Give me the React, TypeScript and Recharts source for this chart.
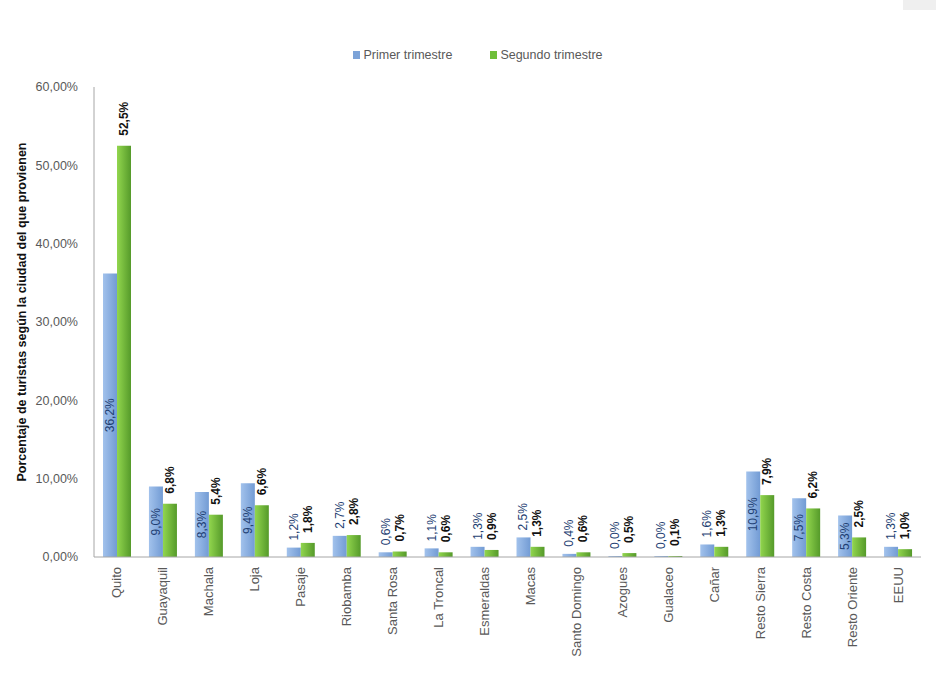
import { BarChart, Bar, XAxis, YAxis, Legend, LabelList } from "recharts";

const ciudades = [
  "Quito", "Guayaquil", "Machala", "Loja", "Pasaje", "Riobamba", "Santa Rosa", "La Troncal",
  "Esmeraldas", "Macas", "Santo Domingo", "Azogues", "Gualaceo", "Cañar", "Resto Sierra",
  "Resto Costa", "Resto Oriente", "EEUU",
];
const primerTrimestre = [36.2, 9.0, 8.3, 9.4, 1.2, 2.7, 0.6, 1.1, 1.3, 2.5, 0.4, 0.0, 0.0, 1.6, 10.9, 7.5, 5.3, 1.3];
const segundoTrimestre = [52.5, 6.8, 5.4, 6.6, 1.8, 2.8, 0.7, 0.6, 0.9, 1.3, 0.6, 0.5, 0.1, 1.3, 7.9, 6.2, 2.5, 1.0];
const yTicks = [0, 10, 20, 30, 40, 50, 60];

const data = ciudades.map((c, i) => ({ ciudad: c, primer: primerTrimestre[i], segundo: segundoTrimestre[i] }));

const FONT = "'Liberation Sans', Arial, sans-serif";
const fmt = (v: number) => v.toFixed(1).replace(".", ",") + "%";

const PrimerLabel = (props: any) => {
  const { x, y, width, height, value } = props;
  const text = fmt(Number(value));
  const len = text.length * 6.8;
  const cx = Number(x) + Number(width) / 2;
  let cy = Number(y) + Number(height) / 2;
  let anchor = "middle";
  if (Number(height) < len + 4) {
    cy = Number(y) - 7;
    anchor = "start";
  }
  return (
    <text x={cx} y={cy} transform={`rotate(-90 ${cx} ${cy})`} textAnchor={anchor}
      dominantBaseline="central" fill="#1f3f73" fontSize={12} fontFamily={FONT}>
      {text}
    </text>
  );
};

const SegundoLabel = (props: any) => {
  const { x, y, width, value } = props;
  const cx = Number(x) + Number(width) / 2;
  const cy = Number(y) - 10;
  return (
    <text x={cx} y={cy} transform={`rotate(-90 ${cx} ${cy})`} textAnchor="start"
      dominantBaseline="central" fill="#111" fontSize={12} fontWeight="bold" fontFamily={FONT}>
      {fmt(Number(value))}
    </text>
  );
};

const CityTick = (props: any) => {
  const { x, y, payload } = props;
  const ty = Number(y) + 8;
  return (
    <text x={x} y={ty} transform={`rotate(-90 ${x} ${ty})`} textAnchor="end"
      dominantBaseline="central" fill="#595959" fontSize={13} fontFamily={FONT}>
      {payload.value}
    </text>
  );
};

const YTitle = () => (
  <text x={22} y={312} transform="rotate(-90 22 312)" textAnchor="middle" dominantBaseline="central"
    fill="#111" fontSize={12.5} fontWeight="bold" fontFamily={FONT}>
    Porcentaje de turistas según la ciudad del que provienen
  </text>
);

const LegendBox = () => (
  <div style={{ display: "flex", justifyContent: "center", paddingLeft: 20, fontFamily: FONT, fontSize: 12.5, color: "#595959" }}>
    <span style={{ display: "flex", alignItems: "center", marginRight: 38 }}>
      <span style={{ width: 7, height: 8, background: "#7ca3d8", marginRight: 3 }} />
      Primer trimestre
    </span>
    <span style={{ display: "flex", alignItems: "center" }}>
      <span style={{ width: 7, height: 8, background: "#6fbf3a", marginRight: 3 }} />
      Segundo trimestre
    </span>
  </div>
);

export default function App() {
  return (
    <div style={{ position: "absolute", left: 0, top: 0, width: 936, height: 692, background: "#fff" }}>
      <div style={{ position: "absolute", left: 903, top: 0, width: 33, height: 10, background: "#efefef" }} />
      <BarChart width={936} height={692} data={data} barSize={14} barGap={0}
        margin={{ top: 87, right: 15, left: 44, bottom: 15 }}>
        <defs>
          <linearGradient id="gBlue" x1="0" y1="0" x2="1" y2="0">
            <stop offset="0%" stopColor="#a2c2ec" />
            <stop offset="100%" stopColor="#729bd4" />
          </linearGradient>
          <linearGradient id="gGreen" x1="0" y1="0" x2="1" y2="0">
            <stop offset="0%" stopColor="#92d64e" />
            <stop offset="100%" stopColor="#559a2a" />
          </linearGradient>
        </defs>
        <Legend verticalAlign="middle" layout="horizontal" content={<LegendBox />}
          wrapperStyle={{ top: 48, left: 0, width: 936 }} />
        <XAxis dataKey="ciudad" interval={0} height={120} tickLine={false} tickSize={0}
          axisLine={{ stroke: "#a6a6a6" }} tick={<CityTick />} />
        <YAxis width={50} domain={[0, 60]} ticks={yTicks} tickLine={false} tickSize={0} tickMargin={16}
          axisLine={{ stroke: "#a6a6a6" }}
          tick={{ fill: "#595959", fontSize: 12.5, fontFamily: FONT }}
          tickFormatter={(v: number) => v.toFixed(2).replace(".", ",") + "%"}
          label={<YTitle />} />
        <Bar dataKey="primer" fill="url(#gBlue)" minPointSize={1} isAnimationActive={false}>
          <LabelList dataKey="primer" content={<PrimerLabel />} />
        </Bar>
        <Bar dataKey="segundo" fill="url(#gGreen)" minPointSize={1} isAnimationActive={false}>
          <LabelList dataKey="segundo" content={<SegundoLabel />} />
        </Bar>
      </BarChart>
    </div>
  );
}
